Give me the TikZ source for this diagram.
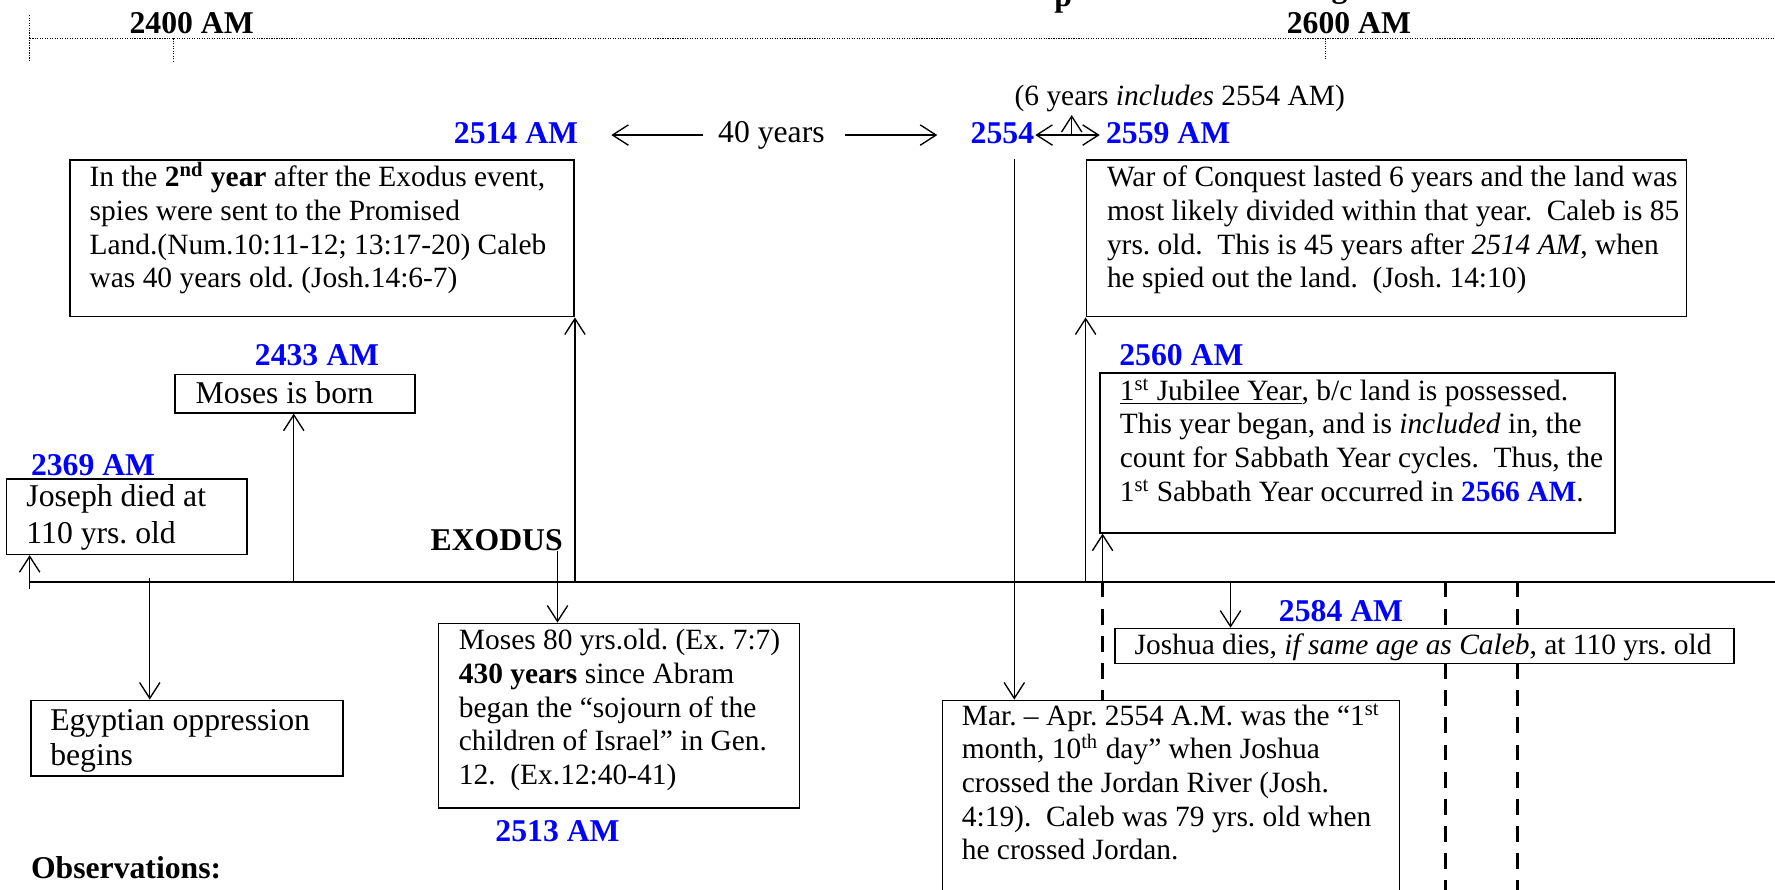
\documentclass[tikz,border=0pt]{standalone}
\usepackage{fontspec}
\setmainfont{Liberation Serif}
\usetikzlibrary{arrows.meta}
\pgfdeclarelayer{background}
\pgfsetlayers{background,main}
\definecolor{amblue}{RGB}{0,0,255}
\newcommand\mlines[1]{\vtop{\lineskiplimit=-50pt\lineskip=0pt\halign{##\hfil\cr#1\crcr}}}
\begin{document}
\frenchspacing
\begin{tikzpicture}[x=0.5pt,y=-0.5pt,
  box/.style={draw, line width=0.7pt, fill=white, inner sep=0pt, anchor=north west},
  txt/.style={inner sep=0pt, anchor=base west, font=\fontsize{13}{14.9}\selectfont},
  lbl/.style={inner sep=0pt, anchor=base west, font=\fontsize{14}{16}\selectfont\bfseries, text=amblue},
  hd/.style={lbl, text=black},
  arr/.style={line width=0.6pt, -{Straight Barb[length=7pt,width=9pt]}},
  dbl/.style={line width=0.6pt, {Straight Barb[length=7pt,width=9pt]}-{Straight Barb[length=7pt,width=9pt]}},
  dashline/.style={line width=1.3pt, dash pattern=on 7pt off 5pt},
  scaleline/.style={line width=0.5pt, dash pattern=on 0.5pt off 0.6pt}]
\useasboundingbox (0,0) rectangle (1568,786);

% ---- top scale ----
\coordinate (sL) at (26.4,33.9);
\coordinate (sR) at (1568,33.9);
\coordinate (k1a) at (26.4,13.3);  \coordinate (k1b) at (26.4,54.5);
\coordinate (k2a) at (153.2,33.9); \coordinate (k2b) at (153.2,54.5);
\coordinate (k3a) at (1170.7,33.9); \coordinate (k3b) at (1170.7,53);
\draw[scaleline] (sL) -- (sR);
\draw[scaleline] (k1a) -- (k1b);
\draw[scaleline] (k2a) -- (k2b);
\draw[scaleline] (k3a) -- (k3b);
\node[hd] (y2400) at (114.1,29.4) {2400 AM};
\node[hd] (y2600) at (1136.4,29.4) {2600 AM};
\node[hd] (titp) at (931,5.5) {p};
\node[hd] (titg) at (1176,-2.5) {g};

% ---- main timeline ----
\coordinate (t0) at (26.2,513.8);
\coordinate (tE) at (1568,513.8);
\draw[line width=0.9pt] (t0) -- (tE);

% ---- boxes ----
\node[box, minimum width=106.25pt, minimum height=33.25pt] (joseph) at (5,422.5) {};
\node[box, minimum width=138pt, minimum height=33.5pt] (egypt) at (26.5,618) {};
\node[box, minimum width=106pt, minimum height=17pt] (born) at (154,330) {};
\node[box, minimum width=222.75pt, minimum height=69.25pt] (spies) at (61,140.5) {};
\node[box, minimum width=159.5pt, minimum height=81.5pt] (m80) at (386.5,550) {};
\node[box, minimum width=265pt, minimum height=69.25pt] (war) at (959,140.5) {};
\node[box, minimum width=227.5pt, minimum height=70.5pt] (jub) at (971,329) {};
\node[box, minimum width=273.5pt, minimum height=15.5pt] (josh) at (984,554.5) {};
\node[box, minimum width=201.75pt, minimum height=92pt] (mar) at (832,618) {};

% ---- box texts ----
\node[txt, font=\fontsize{14}{16.2}\selectfont] (josephT) at (23,447.6) {\mlines{Joseph died at\cr 110 yrs. old}};
\node[txt, font=\fontsize{14}{15.5}\selectfont] (egyptT) at (44,645) {\mlines{Egyptian oppression\cr begins}};
\node[txt, font=\fontsize{14}{16}\selectfont] (bornT) at (172.5,356.3) {Moses is born};
\node[txt] (spiesT) at (78.8,164.9) {\mlines{In the \textbf{2\textsuperscript{nd} year} after the Exodus event,\cr
spies were sent to the Promised\cr
Land.(Num.10:11-12; 13:17-20) Caleb\cr
was 40 years old. (Josh.14:6-7)}};
\node[txt] (m80T) at (405,574) {\mlines{Moses 80 yrs.old. (Ex. 7:7)\cr
\textbf{430 years} since Abram\cr
began the “sojourn of the\cr
children of Israel” in Gen.\cr
12.~ (Ex.12:40-41)}};
\node[txt] (warT) at (977.5,164.9) {\mlines{War of Conquest lasted 6 years and the land was\cr
most likely divided within that year.~ Caleb is 85\cr
yrs. old.~ This is 45 years after \textit{2514 AM}, when\cr
he spied out the land.~ (Josh. 14:10)}};
\node[txt] (jubT) at (988.8,353.4) {\mlines{\underline{1\textsuperscript{st} Jubilee Year}, b/c land is possessed.\cr
This year began, and is \textit{included} in, the\cr
count for Sabbath Year cycles.~ Thus, the\cr
1\textsuperscript{st} Sabbath Year occurred in \textcolor{amblue}{\textbf{2566 AM}}.}};
\node[txt] (joshT) at (1002,578.6) {Joshua dies, \textit{if same age as Caleb}, at 110 yrs. old};
\node[txt] (marT) at (849.3,640.5) {\mlines{Mar. – Apr. 2554 A.M. was the “1\textsuperscript{st}\cr
month, 10\textsuperscript{th} day” when Joshua\cr
crossed the Jordan River (Josh.\cr
4:19).~ Caleb was 79 yrs. old when\cr
he crossed Jordan.}};

% ---- labels ----
\node[lbl] (l2369) at (27,420) {2369 AM};
\node[lbl] (l2433) at (224.8,322.5) {2433 AM};
\node[lbl] (l2514) at (400.6,126.6) {2514 AM};
\node[lbl] (l2554) at (857.1,126.6) {2554};
\node[lbl] (l2559) at (976.7,126.6) {2559 AM};
\node[lbl] (l2560) at (988.4,322.5) {2560 AM};
\node[lbl] (l2584) at (1129.4,549) {2584 AM};
\node[lbl] (l2513) at (437.3,743.5) {2513 AM};
\node[hd] (exodus) at (380,486) {EXODUS};
\node[hd] (obs) at (27,775.8) {Observations:};
\node[txt, font=\fontsize{14}{16}\selectfont] (forty) at (634,126) {40 years};
\node[txt] (six) at (895.9,93.6) {(6 years \textit{includes} 2554 AM)};

% ---- top arrows ----
\coordinate (fa1) at (621.3,119.3); \coordinate (fa2) at (540,119.3);
\coordinate (fb1) at (746.5,119.3); \coordinate (fb2) at (828,119.3);
\draw[arr] (fa1) -- (fa2);
\draw[arr] (fb1) -- (fb2);
\coordinate (da) at (914.6,119.3); \coordinate (db) at (971.5,119.3);
\draw[dbl] (da) -- (db);
\coordinate (ua) at (946.7,119.3); \coordinate (ub) at (946.7,101.6);
\draw[arr] (ua) -- (ub);

% ---- timeline connectors ----
\coordinate (aJ) at (26.2,520);
\draw[arr] (aJ) -- (aJ |- joseph.south);
\coordinate (aE) at (132.3,510.8);
\draw[arr] (aE) -- (aE |- egypt.north);
\coordinate (aB) at (259.5,513.8);
\draw[arr] (aB) -- (aB |- born.south);
\coordinate (aS) at (spies.south east |- t0);
\draw[arr] (aS) -- (spies.south east);
\coordinate (aX) at (492.5,487);
\draw[arr] (aX) -- (aX |- m80.north);
\coordinate (a54) at (896,140.5);
\draw[arr] (a54) -- (a54 |- mar.north);
\coordinate (aW) at (war.south west |- t0);
\draw[arr] (aW) -- (war.south west);
\coordinate (aJb) at (974,513.8);
\draw[arr] (aJb) -- (aJb |- jub.south);
\coordinate (aJo) at (1087,513.8);
\draw[arr] (aJo) -- (aJo |- josh.north);

% ---- dashed markers (behind boxes) ----
\coordinate (d1) at (1277.3,513.8); \coordinate (d1b) at (1277.3,795);
\coordinate (d2) at (1340.8,513.8); \coordinate (d2b) at (1340.8,795);
\begin{pgfonlayer}{background}
\draw[dashline] (aJb) -- (aJb |- mar.north);
\draw[dashline] (d1) -- (d1b);
\draw[dashline] (d2) -- (d2b);
\end{pgfonlayer}
\end{tikzpicture}
\end{document}
